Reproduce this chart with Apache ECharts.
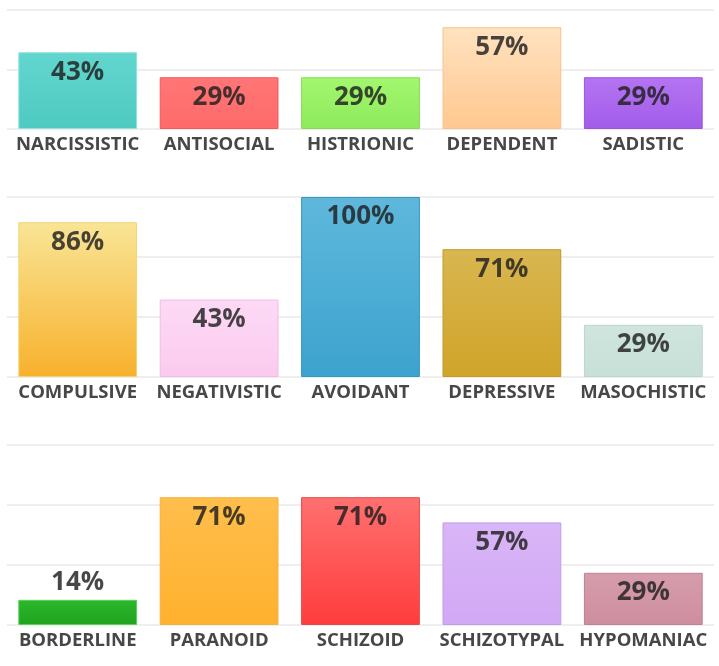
<!DOCTYPE html>
<html>
<head>
<meta charset="utf-8">
<script src="https://cdn.jsdelivr.net/npm/echarts@6/dist/echarts.min.js"></script>
<style>
  html, body { margin: 0; padding: 0; background: #fff; }
  #chart { width: 719px; height: 666px; }
</style>
</head>
<body>
<div id="chart"></div>
<script>
// three rows of disorders, percentage scores
const categoriesRow1 = ['NARCISSISTIC', 'ANTISOCIAL', 'HISTRIONIC', 'DEPENDENT', 'SADISTIC'];
const valuesRow1 = [43, 29, 29, 57, 29];
const categoriesRow2 = ['COMPULSIVE', 'NEGATIVISTIC', 'AVOIDANT', 'DEPRESSIVE', 'MASOCHISTIC'];
const valuesRow2 = [86, 43, 100, 71, 29];
const categoriesRow3 = ['BORDERLINE', 'PARANOID', 'SCHIZOID', 'SCHIZOTYPAL', 'HYPOMANIAC'];
const valuesRow3 = [14, 71, 71, 57, 29];

// bar colours [top, bottom, border]
const colorsRow1 = [
  ['#62d6ce', '#4ecac1', '#8fe3dd'],
  ['#ff7676', '#ff6a6a', '#f05a5a'],
  ['#a2f76e', '#8fea5c', '#86dc55'],
  ['#ffe2c0', '#ffc88f', '#f5c28f'],
  ['#b474f2', '#a25ce9', '#9a55dc']
];
const colorsRow2 = [
  ['#f9e596', '#f7b12c', '#f0d57a'],
  ['#fddaf6', '#fbcaee', '#f2bce4'],
  ['#5fb8dc', '#3ca3ce', '#3596c0'],
  ['#d9b650', '#d0a42a', '#c49a24'],
  ['#cfe5de', '#c7e0d8', '#bcd6ce']
];
const colorsRow3 = [
  ['#2cb82c', '#1fa31f', '#5ccf5c'],
  ['#ffbe4c', '#ffb12e', '#f5b040'],
  ['#ff7070', '#ff3c3c', '#e84848'],
  ['#d9b6f7', '#d1a8f5', '#c49be8'],
  ['#d69dac', '#cd8e9f', '#c08090']
];

const chartDom = document.getElementById('chart');
const myChart = echarts.init(chartDom);

const rows = [
  { cats: categoriesRow1, vals: valuesRow1, colors: colorsRow1, top: 10, height: 119, max: 200 / 3 },
  { cats: categoriesRow2, vals: valuesRow2, colors: colorsRow2, top: 197, height: 180, max: 100 },
  { cats: categoriesRow3, vals: valuesRow3, colors: colorsRow3, top: 445, height: 180, max: 100 }
];

const grid = [], xAxis = [], yAxis = [], series = [];

rows.forEach(function (row, i) {
  grid.push({ left: 7, right: 5, top: row.top, height: row.height });
  xAxis.push({
    type: 'category',
    gridIndex: i,
    data: row.cats,
    axisLine: { show: false },
    axisTick: { show: false },
    axisLabel: {
      margin: 6,
      color: '#474747',
      fontFamily: 'Open Sans',
      fontWeight: 'bold',
      fontSize: 18.5,
      interval: 0
    }
  });
  yAxis.push({
    type: 'value',
    gridIndex: i,
    min: 0,
    max: row.max,
    interval: 100 / 3,
    axisLabel: { show: false },
    axisLine: { show: false },
    axisTick: { show: false },
    splitLine: { lineStyle: { color: '#e9e9e9', width: 1.5 } }
  });
  series.push({
    type: 'bar',
    xAxisIndex: i,
    yAxisIndex: i,
    barCategoryGap: '16%',
    data: row.vals.map(function (v, j) {
      const c = row.colors[j];
      const small = v < 20;
      return {
        value: v,
        itemStyle: {
          color: new echarts.graphic.LinearGradient(0, 0, 0, 1, [
            { offset: 0, color: c[0] },
            { offset: 1, color: c[1] }
          ]),
          borderColor: c[2],
          borderWidth: 1
        },
        label: {
          position: small ? 'top' : 'insideTop',
          distance: small ? 4 : 7
        }
      };
    }),
    label: {
      show: true,
      formatter: '{c}%',
      color: 'rgba(30,30,30,0.82)',
      fontFamily: 'Open Sans',
      fontWeight: 'bold',
      fontSize: 26
    }
  });
});

const option = {
  animation: false,
  grid: grid,
  xAxis: xAxis,
  yAxis: yAxis,
  series: series
};

option && myChart.setOption(option);
</script>
</body>
</html>
